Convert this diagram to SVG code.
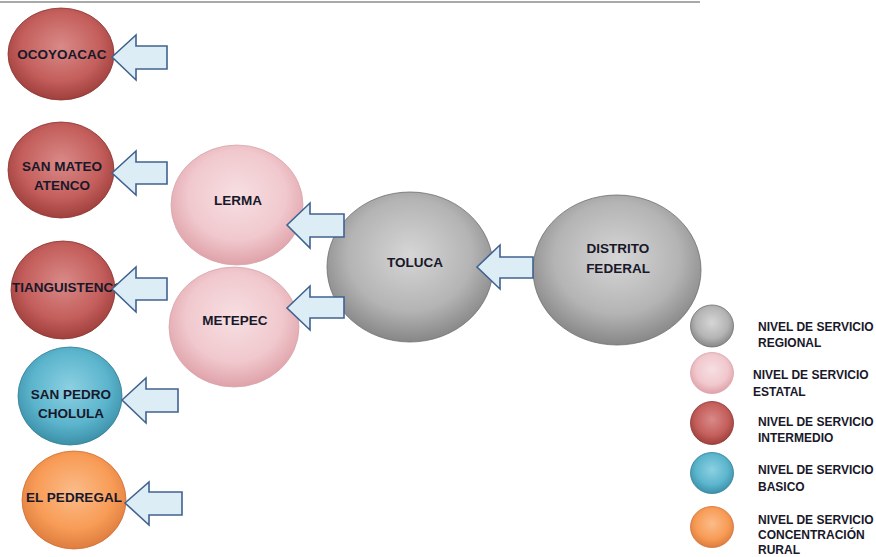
<svg xmlns="http://www.w3.org/2000/svg" width="876" height="557" viewBox="0 0 876 557">
<defs>
<radialGradient id="gGray" cx="50%" cy="42%" r="62%">
<stop offset="0" stop-color="#d6d6d6"/><stop offset="0.6" stop-color="#b4b4b4"/><stop offset="1" stop-color="#7e7e7e"/>
</radialGradient>
<radialGradient id="gPink" cx="50%" cy="42%" r="62%">
<stop offset="0" stop-color="#f7dfe2"/><stop offset="0.6" stop-color="#f0c8cd"/><stop offset="1" stop-color="#dc9aa2"/>
</radialGradient>
<radialGradient id="gRed" cx="50%" cy="42%" r="62%">
<stop offset="0" stop-color="#d98a88"/><stop offset="0.6" stop-color="#c45f5c"/><stop offset="1" stop-color="#983936"/>
</radialGradient>
<radialGradient id="gBlue" cx="50%" cy="42%" r="62%">
<stop offset="0" stop-color="#8dd0e2"/><stop offset="0.6" stop-color="#5bb5cd"/><stop offset="1" stop-color="#3689a1"/>
</radialGradient>
<radialGradient id="gOrange" cx="50%" cy="42%" r="62%">
<stop offset="0" stop-color="#fbbc8a"/><stop offset="0.6" stop-color="#f89c57"/><stop offset="1" stop-color="#d9773a"/>
</radialGradient>
</defs>
<style>
.lbl{font-family:"Liberation Sans",Arial,sans-serif;font-weight:bold;font-size:13.5px;fill:#18182a;text-anchor:middle}
.leg{font-family:"Liberation Sans",Arial,sans-serif;font-weight:bold;font-size:12px;fill:#18182a}
.arr{fill:#dcedf6;stroke:#41628f;stroke-width:1.6;stroke-linejoin:miter}
.gray{fill:url(#gGray);stroke:#6e6e6e;stroke-width:0.8}
.pink{fill:url(#gPink);stroke:#d8a5ab;stroke-width:0.8}
.red{fill:url(#gRed);stroke:#8a3331;stroke-width:0.8}
.blue{fill:url(#gBlue);stroke:#2f7f96;stroke-width:0.8}
.orange{fill:url(#gOrange);stroke:#cf6f33;stroke-width:0.8}
</style>
<rect width="876" height="557" fill="#ffffff"/>
<line x1="0" y1="2" x2="700" y2="2" stroke="#8c8c8c" stroke-width="1.5"/>

<g id="ocoyoacac"><ellipse class="red" cx="61" cy="54" rx="53" ry="46"/><text class="lbl" x="62" y="59">OCOYOACAC</text></g>
<g id="san-mateo-atenco"><ellipse class="red" cx="61" cy="170" rx="53" ry="48"/><text class="lbl" x="62" y="171">SAN MATEO</text><text class="lbl" x="62" y="190">ATENCO</text></g>
<g id="tianguistenco"><ellipse class="red" cx="63" cy="290" rx="52" ry="49"/><text class="lbl" x="12" y="292" style="text-anchor:start">TIANGUISTENCO</text></g>
<g id="san-pedro-cholula"><ellipse class="blue" cx="70" cy="396" rx="52" ry="49"/><text class="lbl" x="71" y="399">SAN PEDRO</text><text class="lbl" x="71" y="418">CHOLULA</text></g>
<g id="el-pedregal"><ellipse class="orange" cx="74" cy="500" rx="52" ry="49"/><text class="lbl" x="74" y="502">EL PEDREGAL</text></g>
<g id="lerma"><ellipse class="pink" cx="237" cy="205" rx="66" ry="60"/><text class="lbl" x="238" y="205">LERMA</text></g>
<g id="metepec"><ellipse class="pink" cx="234" cy="327" rx="65" ry="60"/><text class="lbl" x="235" y="325">METEPEC</text></g>
<g id="toluca"><ellipse class="gray" cx="410" cy="267" rx="83" ry="75"/><text class="lbl" x="415" y="267">TOLUCA</text></g>
<g id="distrito-federal"><ellipse class="gray" cx="617" cy="270" rx="84" ry="75"/><text class="lbl" x="618" y="253">DISTRITO</text><text class="lbl" x="618" y="273">FEDERAL</text></g>

<g id="connectors">
<path class="arr" d="M112,57 L136,35 L136,46 L167,46 L167,69 L136,69 L136,80 Z"/>
<path class="arr" d="M112,173 L136,151 L136,162 L167,162 L167,184 L136,184 L136,195 Z"/>
<path class="arr" d="M112,289 L136,267 L136,278 L167,278 L167,300 L136,300 L136,312 Z"/>
<path class="arr" d="M122,400 L146,378 L146,389 L178,389 L178,412 L146,412 L146,423 Z"/>
<path class="arr" d="M125,503 L149,482 L149,492 L182,492 L182,515 L149,515 L149,525 Z"/>
<path class="arr" d="M287,225 L310,203 L310,214 L344,214 L344,237 L310,237 L310,248 Z"/>
<path class="arr" d="M287,308 L310,286 L310,297 L344,297 L344,318 L310,318 L310,330 Z"/>
<path class="arr" d="M477,267 L500,245 L500,257 L533,257 L533,278 L500,278 L500,289 Z"/>
</g>

<g id="legend-regional"><ellipse class="gray" cx="712" cy="326" rx="21.5" ry="21"/><text class="leg" x="758" y="331">NIVEL DE SERVICIO</text><text class="leg" x="758" y="347">REGIONAL</text></g>
<g id="legend-estatal"><ellipse class="pink" cx="712" cy="373" rx="21.5" ry="20.5"/><text class="leg" x="753" y="379">NIVEL DE SERVICIO</text><text class="leg" x="753" y="396">ESTATAL</text></g>
<g id="legend-intermedio"><ellipse class="red" cx="712" cy="423" rx="21.5" ry="21.5"/><text class="leg" x="758" y="426">NIVEL DE SERVICIO</text><text class="leg" x="758" y="442">INTERMEDIO</text></g>
<g id="legend-basico"><ellipse class="blue" cx="712" cy="473" rx="21.5" ry="20.5"/><text class="leg" x="758" y="474">NIVEL DE SERVICIO</text><text class="leg" x="758" y="491">BASICO</text></g>
<g id="legend-rural"><ellipse class="orange" cx="712" cy="527" rx="21.5" ry="20.5"/><text class="leg" x="758" y="524">NIVEL DE SERVICIO</text><text class="leg" x="758" y="539">CONCENTRACIÓN</text><text class="leg" x="758" y="554">RURAL</text></g>
</svg>
